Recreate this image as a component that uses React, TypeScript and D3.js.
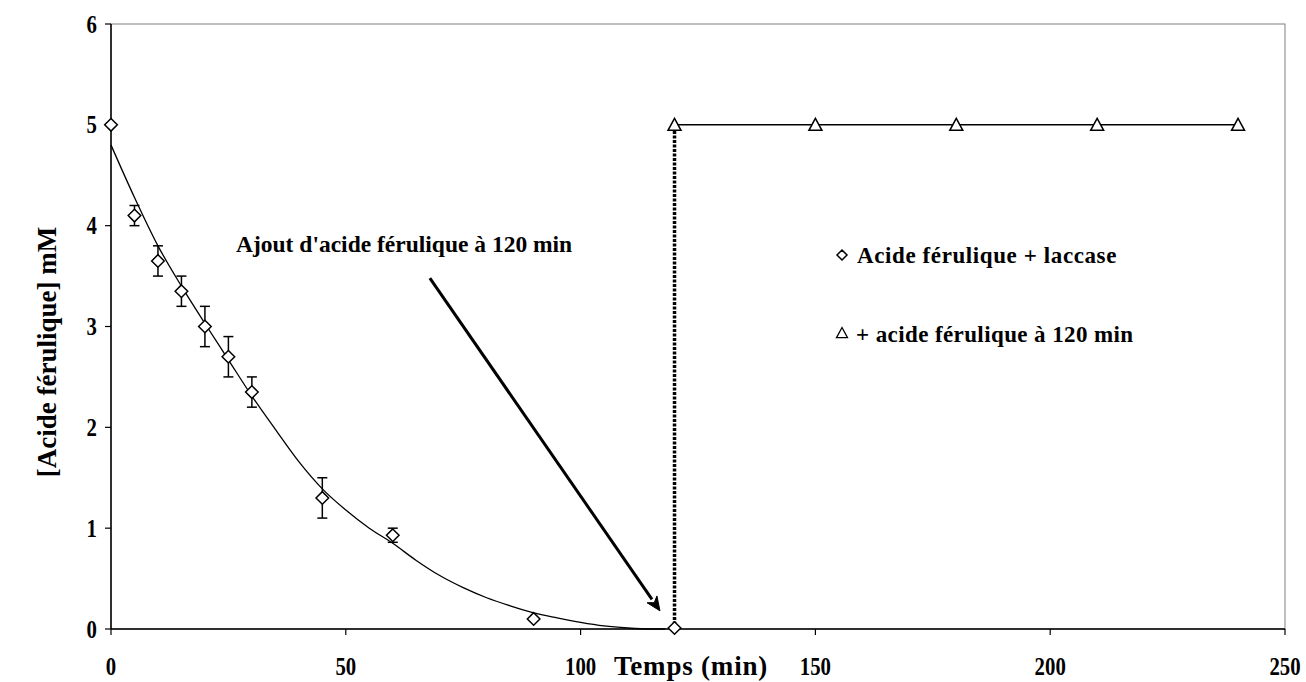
import React from "react";
import * as d3 from "d3";

// ---- data ----
const timeA = [0, 5, 10, 15, 20, 25, 30, 45, 60, 90, 120];
const concA = [5.0, 4.1, 3.65, 3.35, 3.0, 2.7, 2.35, 1.3, 0.93, 0.1, 0.01];
const errA = [0, 0.1, 0.15, 0.15, 0.2, 0.2, 0.15, 0.2, 0.07, 0, 0];

const timeB = [120, 150, 180, 210, 240];
const concB = [5, 5, 5, 5, 5];

// fitted trend curve
const fitT = [0, 5, 10, 15, 20, 25, 30, 35, 40, 45, 50, 55, 60, 65, 70, 75, 80, 85, 90, 95, 100, 105, 110, 115, 118];
const fitC = [4.8, 4.28, 3.8, 3.4, 3.03, 2.67, 2.31, 1.98, 1.66, 1.39, 1.18, 1.0, 0.85, 0.68, 0.53, 0.41, 0.31, 0.23, 0.16, 0.11, 0.065, 0.03, 0.01, 0.0, 0.0];

const xTicks = [0, 50, 100, 150, 200, 250];
const yTicks = [0, 1, 2, 3, 4, 5, 6];

const annotationText = "Ajout d'acide férulique à 120 min";
const arrowFrom = [67.9, 3.48];
const arrowTo = [116.9, 0.18];
const additionTime = 120;

const legendLabels = ["Acide férulique + laccase", "+ acide férulique à 120 min"];
const xTitle = "Temps (min)";
const yTitle = "[Acide férulique] mM";

const W = 1306;
const H = 682;
const FONT = "'Liberation Serif', 'Times New Roman', serif";

export default function App() {
  const x = d3.scaleLinear().domain([0, 250]).range([111, 1285]);
  const y = d3.scaleLinear().domain([0, 6]).range([629, 24]);

  const fitLine = d3
    .line<number>()
    .x((_, i) => x(fitT[i]))
    .y((_, i) => y(fitC[i]))
    .curve(d3.curveMonotoneX)(fitC) as string;

  const lineB = d3
    .line<number>()
    .x((_, i) => x(timeB[i]))
    .y((_, i) => y(concB[i]))(concB) as string;

  const diamond = (cx: number, cy: number, r = 6.3) =>
    `M${cx},${cy - r}L${cx + r},${cy}L${cx},${cy + r}L${cx - r},${cy}Z`;
  const triangle = (cx: number, cy: number, r = 6.5) =>
    `M${cx},${cy - r}L${cx + r},${cy + r * 0.85}L${cx - r},${cy + r * 0.85}Z`;

  // arrow geometry
  const ax1 = x(arrowFrom[0]);
  const ay1 = y(arrowFrom[1]);
  const ax2 = x(arrowTo[0]);
  const ay2 = y(arrowTo[1]);
  const ang = Math.atan2(ay2 - ay1, ax2 - ax1);
  const headL = 14;
  const headW = 6;
  const bx = ax2 - headL * Math.cos(ang);
  const by = ay2 - headL * Math.sin(ang);
  const px = -Math.sin(ang);
  const py = Math.cos(ang);
  const head = `M${ax2},${ay2}L${bx + headW * px},${by + headW * py}L${bx + 4 * Math.cos(ang)},${by + 4 * Math.sin(ang)}L${bx - headW * px},${by - headW * py}Z`;

  const [x0, x1] = x.range();
  const [y0, y1] = y.range();

  return (
    <svg
      width={W}
      height={H}
      style={{ position: "absolute", left: 0, top: 0, background: "#fff" }}
      fontFamily={FONT}
    >
      <rect x={0} y={0} width={W} height={H} fill="#fff" />
      {/* plot frame */}
      <rect x={x0} y={y1} width={x1 - x0} height={y0 - y1} fill="none" stroke="#808080" strokeWidth={1} />
      {/* axes */}
      <line x1={x0} x2={x1} y1={y0} y2={y0} stroke="#000" strokeWidth={1.5} />
      <line x1={x0} x2={x0} y1={y0} y2={y1} stroke="#000" strokeWidth={1.5} />
      {xTicks.map((t) => (
        <g key={"xt" + t}>
          <line x1={x(t)} x2={x(t)} y1={y0} y2={y0 + 6} stroke="#000" strokeWidth={1.2} />
          <text
            transform={`translate(${x(t)},675) scale(0.8,1)`}
            textAnchor="middle"
            fontWeight="bold"
            fontSize={26}
          >
            {t}
          </text>
        </g>
      ))}
      {yTicks.map((t) => (
        <g key={"yt" + t}>
          <line x1={x0 - 6} x2={x0} y1={y(t)} y2={y(t)} stroke="#000" strokeWidth={1.2} />
          <text
            transform={`translate(97,${y(t) + 8.5}) scale(0.8,1)`}
            textAnchor="end"
            fontWeight="bold"
            fontSize={26}
          >
            {t}
          </text>
        </g>
      ))}
      <text x={614} y={675} fontWeight="bold" fontSize={27} letterSpacing={0.8}>
        {xTitle}
      </text>
      <text
        transform={`translate(56,${352}) rotate(-90)`}
        textAnchor="middle"
        fontWeight="bold"
        fontSize={27}
      >
        {yTitle}
      </text>

      {/* fitted curve */}
      <path d={fitLine} fill="none" stroke="#000" strokeWidth={1.3} />

      {/* addition dotted line */}
      <line
        x1={x(additionTime)}
        x2={x(additionTime)}
        y1={y(0)}
        y2={y(5) + 6}
        stroke="#000"
        strokeWidth={3.5}
        strokeDasharray="3 1.5"
      />

      {/* series B line */}
      <path d={lineB} fill="none" stroke="#000" strokeWidth={1.5} />

      {/* error bars */}
      {timeA.map((t, i) =>
        errA[i] > 0 ? (
          <g key={"e" + i} stroke="#000" strokeWidth={1.5}>
            <line x1={x(t)} x2={x(t)} y1={y(concA[i] - errA[i])} y2={y(concA[i] + errA[i])} />
            <line x1={x(t) - 5} x2={x(t) + 5} y1={y(concA[i] - errA[i])} y2={y(concA[i] - errA[i])} />
            <line x1={x(t) - 5} x2={x(t) + 5} y1={y(concA[i] + errA[i])} y2={y(concA[i] + errA[i])} />
          </g>
        ) : null
      )}

      {/* markers A */}
      {timeA.map((t, i) => (
        <path key={"d" + i} d={diamond(x(t), y(concA[i]))} fill="#fff" stroke="#000" strokeWidth={1.5} />
      ))}
      {/* markers B */}
      {timeB.map((t, i) => (
        <path key={"t" + i} d={triangle(x(t), y(concB[i]))} fill="#fff" stroke="#000" strokeWidth={1.5} />
      ))}

      {/* annotation */}
      <text x={236} y={252} fontWeight="bold" fontSize={23.5}>
        {annotationText}
      </text>
      <line x1={ax1} y1={ay1} x2={bx} y2={by} stroke="#000" strokeWidth={3} />
      <path d={head} fill="#000" stroke="#000" strokeWidth={1} />

      {/* legend */}
      <path d={diamond(842, 255, 5)} fill="#fff" stroke="#000" strokeWidth={1.5} />
      <text x={857} y={263} fontWeight="bold" fontSize={23} letterSpacing={0.6}>
        {legendLabels[0]}
      </text>
      <path d={triangle(842, 333, 5.5)} fill="#fff" stroke="#000" strokeWidth={1.3} />
      <text x={856} y={342} fontWeight="bold" fontSize={23} letterSpacing={0.4}>
        {legendLabels[1]}
      </text>
    </svg>
  );
}
